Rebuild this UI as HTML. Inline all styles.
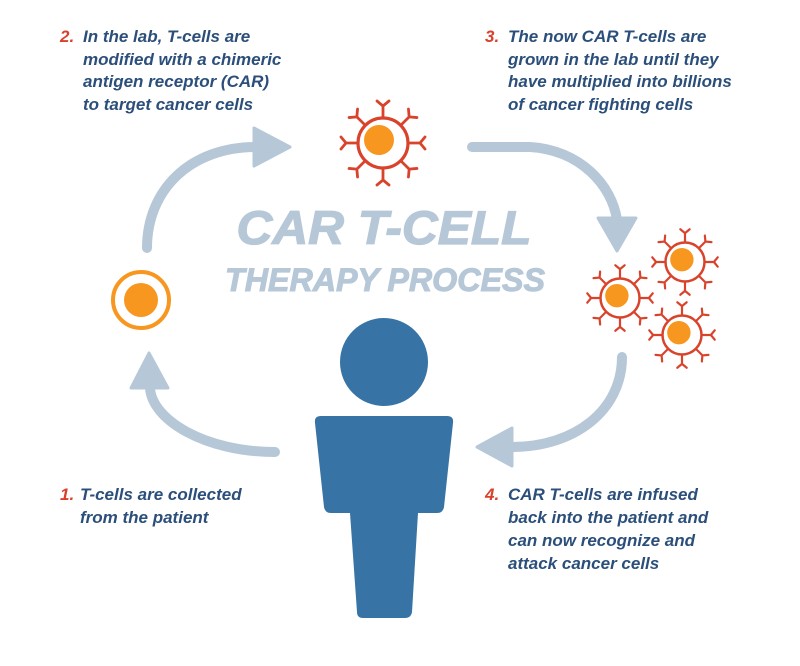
<!DOCTYPE html>
<html><head><meta charset="utf-8"><style>
html,body{margin:0;padding:0;background:#fff;}
svg{display:block;}
.t{font-family:"Liberation Sans",sans-serif;font-weight:bold;font-style:italic;font-size:17px;fill:#2b4f7a;}
.n{fill:#d9412c;}
</style></head><body>
<svg width="800" height="666" viewBox="0 0 800 666" xmlns="http://www.w3.org/2000/svg">
<defs>
<g id="sp" stroke="#d9432b" stroke-width="2.8" stroke-linecap="round" fill="none">
<path d="M0,-25 L0,-37 M0,-37 L-6,-42 M0,-37 L6,-42"/>
</g>
<g id="cell">
<use href="#sp"/><use href="#sp" transform="rotate(45)"/><use href="#sp" transform="rotate(90)"/><use href="#sp" transform="rotate(135)"/>
<use href="#sp" transform="rotate(180)"/><use href="#sp" transform="rotate(225)"/><use href="#sp" transform="rotate(270)"/><use href="#sp" transform="rotate(315)"/>
<circle r="25" fill="#fff" stroke="#d9432b" stroke-width="3.2"/>
<circle cx="-4" cy="-3" r="15" fill="#f7971f"/>
</g>
</defs>

<g stroke="#b6c7d8" stroke-width="10" fill="none" stroke-linecap="round">
<path d="M147,248 C147,190 190,147 256,147"/>
<path d="M275,452 C205,452 152,420 150,388"/>
<path d="M472,147 L530,147 C580,150 612,185 617,220"/>
<path d="M622,357 C622,410 575,447 512,447"/>
</g>
<g fill="#b6c7d8" stroke="#b6c7d8" stroke-width="3" stroke-linejoin="round">
<polygon points="254,128 290,147 254,166"/>
<polygon points="131,388 149,353 168,388"/>
<polygon points="598,218 617,251 636,218"/>
<polygon points="512,428 477,447 512,466"/>
</g>

<text x="384" y="244" text-anchor="middle" font-family="Liberation Sans,sans-serif" font-weight="bold" font-style="italic" font-size="47" fill="#b6c7d8" stroke="#b6c7d8" stroke-width="1.2" textLength="295" lengthAdjust="spacingAndGlyphs">CAR T-CELL</text>
<text x="385" y="291" text-anchor="middle" font-family="Liberation Sans,sans-serif" font-weight="bold" font-style="italic" font-size="32" fill="#b6c7d8" stroke="#b6c7d8" stroke-width="1" textLength="320" lengthAdjust="spacingAndGlyphs">THERAPY PROCESS</text>

<circle cx="141" cy="300" r="28" fill="#fff" stroke="#f7971f" stroke-width="4"/>
<circle cx="141" cy="300" r="17" fill="#f7971f"/>

<use href="#cell" transform="translate(383,143)"/>
<use href="#cell" transform="translate(620,298) scale(0.78)"/>
<use href="#cell" transform="translate(685,262) scale(0.78)"/>
<use href="#cell" transform="translate(682,335) scale(0.78)"/>

<circle cx="384" cy="362" r="44" fill="#3773a5"/>
<path d="M321,416 L447,416 Q454,416 453,423 L444,507 Q443,513 437,513 L418,513 L412,612 Q411,618 405,618 L363,618 Q357,618 357,612 L350,513 L331,513 Q325,513 324,507 L315,423 Q314,416 321,416 Z" fill="#3773a5"/>

<text class="t"><tspan class="n" x="60" y="42">2.</tspan><tspan x="83" y="42">In the lab, T-cells are</tspan><tspan x="83" y="65">modified with a chimeric</tspan><tspan x="83" y="87">antigen receptor (CAR)</tspan><tspan x="83" y="110">to target cancer cells</tspan></text>
<text class="t"><tspan class="n" x="485" y="42">3.</tspan><tspan x="508" y="42">The now CAR T-cells are</tspan><tspan x="508" y="65">grown in the lab until they</tspan><tspan x="508" y="87">have multiplied into billions</tspan><tspan x="508" y="110">of cancer fighting cells</tspan></text>
<text class="t"><tspan class="n" x="60" y="500">1.</tspan><tspan x="80" y="500">T-cells are collected</tspan><tspan x="80" y="523">from the patient</tspan></text>
<text class="t"><tspan class="n" x="485" y="500">4.</tspan><tspan x="508" y="500">CAR T-cells are infused</tspan><tspan x="508" y="523">back into the patient and</tspan><tspan x="508" y="546">can now recognize and</tspan><tspan x="508" y="569">attack cancer cells</tspan></text>
</svg>
</body></html>
